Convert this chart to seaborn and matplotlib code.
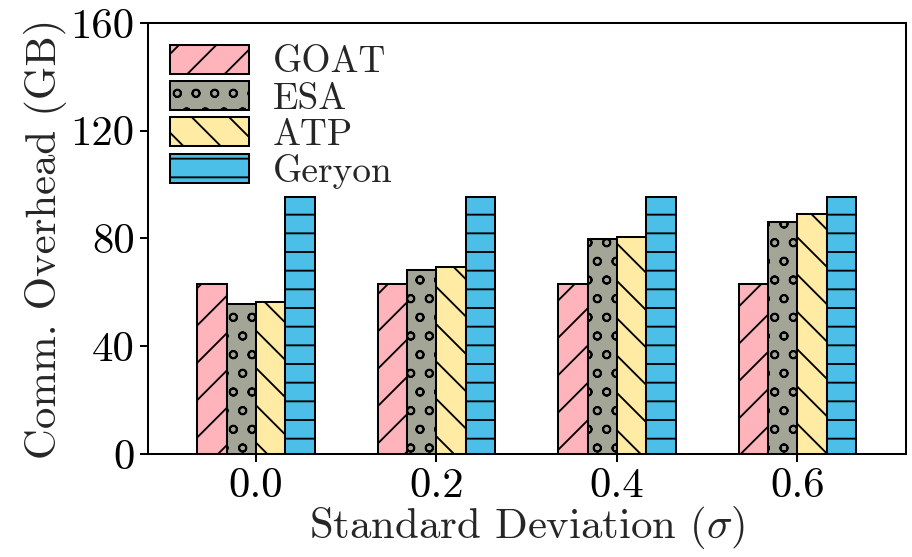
import matplotlib
matplotlib.use("Agg")
import matplotlib.pyplot as plt
import seaborn as sns
import pandas as pd

# Communication overhead (GB) per method for each standard deviation
sigmas = ["0.0", "0.2", "0.4", "0.6"]
methods = ["GOAT", "ESA", "ATP", "Geryon"]
goat = [63.0, 63.0, 63.0, 63.0]
esa = [55.5, 68.2, 79.6, 86.0]
atp = [56.5, 69.2, 80.6, 89.0]
geryon = [95.5, 95.5, 95.5, 95.5]

colors = ["#FFB3BA", "#A3A597", "#FFEBA3", "#4BBFE8"]
hatches = ["/", "o", "\\", "-"]
yticks = [0, 40, 80, 120, 160]

rows = []
for m, vals in zip(methods, [goat, esa, atp, geryon]):
    for s, v in zip(sigmas, vals):
        rows.append({"sigma": s, "method": m, "overhead": v})
df = pd.DataFrame(rows)

sns.set_style("ticks")
plt.rcParams.update({
    "font.family": "serif",
    "font.serif": ["cmr10"],
    "mathtext.fontset": "cm",
    "axes.formatter.use_mathtext": True,
    "hatch.linewidth": 1.2,
    "axes.linewidth": 1.3,
})

fig = plt.figure(figsize=(912 / 112, 557 / 112), dpi=112)
ax = fig.add_axes([0.162, 0.185, 0.831, 0.774])

sns.barplot(data=df, x="sigma", y="overhead", hue="method", order=sigmas,
            hue_order=methods, palette=colors, width=0.65, saturation=1,
            edgecolor="black", linewidth=1.3, legend=False, ax=ax)

for cont, h in zip(ax.containers, hatches):
    for bar in cont:
        bar.set_hatch(h)

ax.set_xlim(-0.6, 3.6)
ax.set_ylim(0, 160)
ax.set_yticks(yticks)
ax.set_yticklabels([str(t) for t in yticks])
ax.tick_params(axis="both", labelsize=27.5, length=5, width=1.3, colors="black")
ax.tick_params(axis="x", pad=4)
ax.set_xlabel(r"Standard Deviation ($\sigma$)", fontsize=27.5, labelpad=-1)
ax.set_ylabel("Comm. Overhead (GB)", fontsize=27.5, labelpad=2)
for sp in ax.spines.values():
    sp.set_visible(True)
    sp.set_color("black")

ax.legend(handles=list(ax.containers), labels=methods, loc="upper left",
          frameon=False, fontsize=24, handlelength=2.1, handleheight=0.8,
          handletextpad=0.65, labelspacing=0.05, borderaxespad=0.3,
          borderpad=0.3)

fig.savefig("out.png", dpi=112)
